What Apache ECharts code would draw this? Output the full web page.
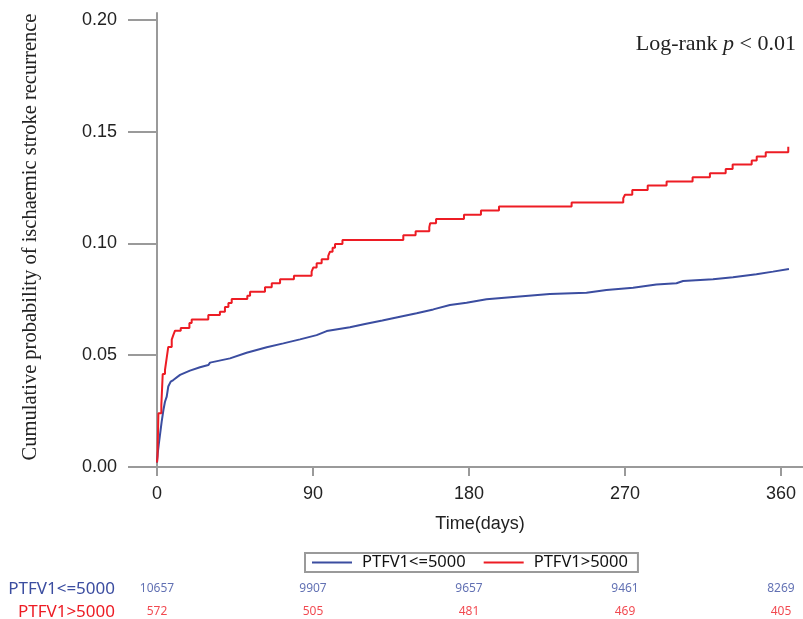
<!DOCTYPE html>
<html>
<head>
<meta charset="utf-8">
<script src="https://cdn.jsdelivr.net/npm/echarts@6/dist/echarts.min.js"></script>
<style>
html,body{margin:0;padding:0;background:#fff;}
#c{width:803px;height:619px;}
</style>
</head>
<body>
<div id="c"></div>
<script>
// ---- data ----
const xTicks = [0, 90, 180, 270, 360];
const yTicks = [0, 0.05, 0.10, 0.15, 0.20];
const seriesNames = ['PTFV1<=5000', 'PTFV1>5000'];

const blueDays = [0, 0.4, 1, 1.7, 2.7, 3.7, 4.6, 5.6, 6.5, 7.9, 9.4, 13.3, 19, 24.8, 29.6, 30.6, 42.1, 51.7, 63.3, 72.9, 82.5, 92.1, 97.9, 111.3, 120, 130, 140.2, 149.8, 159.4, 169, 178.6, 190.1, 207.4, 226.6, 247.8, 259.3, 274.7, 288.1, 299.7, 303.5, 320.8, 332.3, 345.8, 355.4, 364.6];
const blueProb = [0.002, 0.006, 0.010, 0.0143, 0.0203, 0.0255, 0.0292, 0.0315, 0.036, 0.0382, 0.0389, 0.0412, 0.0431, 0.0446, 0.0456, 0.0467, 0.0486, 0.0511, 0.0536, 0.0553, 0.0571, 0.059, 0.0608, 0.0625, 0.064, 0.0655, 0.0672, 0.0688, 0.0705, 0.0725, 0.0735, 0.075, 0.0762, 0.0774, 0.078, 0.0792, 0.0802, 0.0816, 0.0822, 0.0832, 0.084, 0.0849, 0.0862, 0.0874, 0.0886];

const redDays = [0, 0.3, 0.8, 2.5, 3.3, 4.6, 5.6, 6.5, 8.5, 9.4, 10.4, 13.7, 18.7, 20, 29.6, 36.3, 39.2, 41.2, 43.1, 52.1, 53.7, 62.3, 66.2, 71, 79, 89.2, 90.2, 92.1, 95, 98.8, 99.8, 101.3, 102.7, 107, 142.1, 149.2, 157.1, 157.6, 161, 177.1, 186.9, 197.3, 239.2, 269, 270, 274.2, 283.1, 294, 309, 319, 328.1, 332.1, 343.1, 346, 351.2, 364.2, 364.6];
const redProb = [0.002, 0.005, 0.024, 0.0277, 0.0416, 0.0434, 0.0488, 0.0537, 0.057, 0.059, 0.061, 0.0622, 0.0644, 0.066, 0.068, 0.0694, 0.0716, 0.0734, 0.0752, 0.0766, 0.0784, 0.0804, 0.0822, 0.084, 0.0856, 0.0874, 0.0893, 0.0911, 0.0929, 0.0944, 0.0963, 0.0981, 0.0998, 0.1016, 0.1037, 0.1055, 0.1073, 0.109, 0.111, 0.1128, 0.1147, 0.1165, 0.1183, 0.1202, 0.1218, 0.1239, 0.1259, 0.1277, 0.1296, 0.1314, 0.1333, 0.1353, 0.1371, 0.1389, 0.1408, 0.1433, 0.1433];

const riskTimes = [0, 90, 180, 270, 360];
const riskLow = [10657, 9907, 9657, 9461, 8269];
const riskHigh = [572, 505, 481, 469, 405];

// ---- styles ----
const BLUE = '#3B4DA0';
const RED = '#ED1C24';
const AXIS = '#9a9a9a';
const SANS = '"Liberation Sans", Arial, sans-serif';
const SERIF = '"Liberation Serif", "Times New Roman", serif';
const UI = '"Noto Sans", "Open Sans", sans-serif';

const zip = (a, b) => a.map((v, i) => [v, b[i]]);

const chart = echarts.init(document.getElementById('c'), null, {renderer: 'canvas'});

const option = {
  animation: false,
  backgroundColor: '#fff',
  grid: [
    {left: 157, right: 0, top: 13, bottom: 152, outerBoundsMode: 'none'},
    {left: 157, right: 0, top: 577.5, height: 46, outerBoundsMode: 'none'}
  ],
  xAxis: [
    {
      type: 'value', gridIndex: 0, min: 0, max: 372.7,
      name: 'Time(days)', nameLocation: 'middle', nameGap: 48,
      nameTextStyle: {fontFamily: SANS, fontSize: 18, color: '#222'},
      axisLine: {show: true, lineStyle: {color: AXIS, width: 2}},
      axisTick: {show: true, length: 9, lineStyle: {color: AXIS, width: 2}, customValues: xTicks},
      axisLabel: {show: true, margin: 18, fontFamily: SANS, fontSize: 18, color: '#222', customValues: xTicks},
      splitLine: {show: false}
    },
    {
      type: 'value', gridIndex: 1, min: 0, max: 372.7,
      axisLine: {show: false}, axisTick: {show: false}, axisLabel: {show: false}, splitLine: {show: false}
    }
  ],
  yAxis: [
    {
      type: 'value', gridIndex: 0, min: 0, max: 0.2031,
      axisLine: {show: true, lineStyle: {color: AXIS, width: 2}},
      axisTick: {show: true, length: 29, lineStyle: {color: AXIS, width: 2}, customValues: yTicks},
      axisLabel: {show: true, margin: 40, fontFamily: SANS, fontSize: 18, color: '#222', customValues: yTicks,
        formatter: v => v.toFixed(2)},
      splitLine: {show: false}
    },
    {
      type: 'category', gridIndex: 1, inverse: true, data: seriesNames,
      axisLine: {show: false}, axisTick: {show: false}, splitLine: {show: false},
      axisLabel: {
        margin: 42, fontFamily: UI, fontSize: 17,
        formatter: (v, i) => i === 0 ? '{b|' + v + '}' : '{r|' + v + '}',
        rich: {
          b: {color: BLUE, fontFamily: UI, fontSize: 17},
          r: {color: RED, fontFamily: UI, fontSize: 17}
        }
      }
    }
  ],
  legend: {
    data: [
      {name: seriesNames[0], icon: 'rect'},
      {name: seriesNames[1], icon: 'rect'}
    ],
    left: 305, top: 553,
    itemWidth: 40, itemHeight: 2, itemGap: 18,
    padding: [1, 10, 1, 7],
    borderColor: '#9a9a9a', borderWidth: 2, borderRadius: 0,
    textStyle: {fontFamily: UI, fontSize: 16.5, color: '#111', padding: [0, 0, 0, 5]}
  },
  graphic: [
    {
      type: 'text', x: 31, y: 237, rotation: Math.PI / 2,
      style: {
        text: 'Cumulative probability of ischaemic stroke recurrence',
        font: '20.5px ' + SERIF, fill: '#222', align: 'center', verticalAlign: 'middle'
      }
    },
    {
      type: 'text', x: 796, y: 44,
      style: {
        text: '{n|Log-rank }{i|p}{n| < 0.01}',
        rich: {
          n: {fontFamily: SERIF, fontSize: 22, fill: '#222'},
          i: {fontFamily: SERIF, fontSize: 22, fontStyle: 'italic', fill: '#222'}
        },
        font: '22px ' + SERIF, fill: '#222', align: 'right', verticalAlign: 'middle'
      }
    }
  ],
  series: [
    {
      name: seriesNames[0], type: 'line', xAxisIndex: 0, yAxisIndex: 0,
      data: zip(blueDays, blueProb), showSymbol: false, symbol: 'none',
      color: BLUE, lineStyle: {color: BLUE, width: 2}
    },
    {
      name: seriesNames[1], type: 'line', xAxisIndex: 0, yAxisIndex: 0, step: 'end',
      data: zip(redDays, redProb), showSymbol: false, symbol: 'none',
      color: RED, lineStyle: {color: RED, width: 2}
    },
    {
      name: 'riskLow', type: 'scatter', xAxisIndex: 1, yAxisIndex: 1,
      data: riskTimes.map((t, i) => [t, 0, riskLow[i]]),
      symbolSize: 1, itemStyle: {color: 'rgba(0,0,0,0)'},
      label: {show: true, position: 'inside', formatter: p => String(p.value[2]),
        fontFamily: UI, fontSize: 12, color: BLUE}
    },
    {
      name: 'riskHigh', type: 'scatter', xAxisIndex: 1, yAxisIndex: 1,
      data: riskTimes.map((t, i) => [t, 1, riskHigh[i]]),
      symbolSize: 1, itemStyle: {color: 'rgba(0,0,0,0)'},
      label: {show: true, position: 'inside', formatter: p => String(p.value[2]),
        fontFamily: UI, fontSize: 12, color: RED}
    }
  ]
};
chart.setOption(option);
</script>
</body>
</html>
